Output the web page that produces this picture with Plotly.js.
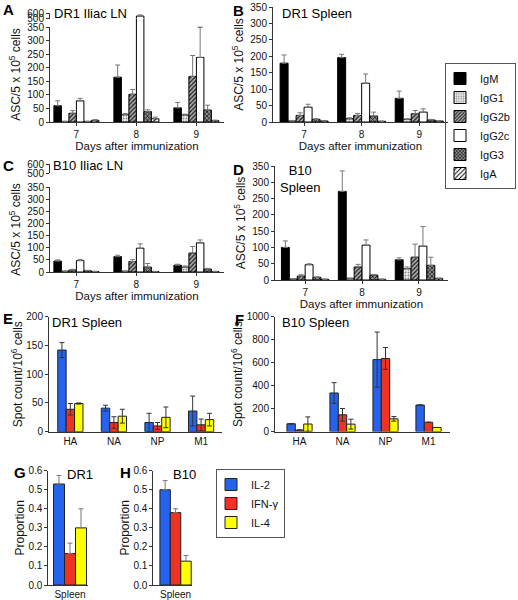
<!DOCTYPE html>
<html><head><meta charset="utf-8">
<script src="https://cdn.plot.ly/plotly-3.0.1.min.js"></script>
<style>html,body{margin:0;padding:0;background:#fff}#chart{width:518px;height:600px}</style>
</head><body><div id="chart"></div>
<script>
// ---------- data ----------
const days = [7, 8, 9];
const isotypes = ['IgM', 'IgG1', 'IgG2b', 'IgG2c', 'IgG3', 'IgA'];
// rows follow isotypes, columns follow days
const dr1IliacMean = [[60,165,52],[2,27,26],[32,102,168],[78,545,238],[2,38,44],[6,12,5]];
const dr1IliacErr  = [[18,45,20],[1,4,3],[10,18,77],[9,20,110],[1,7,18],[3,6,2]];
const dr1SpleenMean = [[179,196,72],[3,10,8],[20,20,25],[45,118,30],[8,18,6],[3,2,3]];
const dr1SpleenErr  = [[25,10,22],[1,3,2],[8,6,10],[9,28,10],[2,12,2],[1,1,1]];
const b10IliacMean = [[45,63,28],[3,3,20],[8,43,78],[47,98,120],[5,20,12],[2,2,2]];
const b10IliacErr  = [[5,6,4],[1,1,5],[3,8,27],[5,18,12],[2,15,3],[1,1,1]];
const b10SpleenMean = [[100,272,62],[3,5,35],[12,40,70],[47,107,104],[8,15,45],[2,2,5]];
const b10SpleenErr  = [[20,63,6],[1,1,5],[4,8,40],[3,16,60],[2,2,25],[1,1,1]];

const antigens = ['HA', 'NA', 'NP', 'M1'];
const cytokines = ['IL-2', 'IFN-γ', 'IL-4'];
const dr1SpotMean = [[142,41,16,36],[39,16,10,12],[49,27,25,21]];
const dr1SpotErr  = [[13,5,16,26],[10,10,6,10],[1,12,18,11]];
const b10SpotMean = [[67,335,625,230],[12,145,635,80],[65,64,110,35]];
const b10SpotErr  = [[3,90,240,0],[3,55,95,0],[62,43,20,0]];

const organ = ['Spleen'];
const dr1PropMean = [0.53, 0.165, 0.30];
const dr1PropErr  = [0.045, 0.055, 0.10];
const b10PropMean = [0.50, 0.38, 0.125];
const b10PropErr  = [0.048, 0.02, 0.03];

const ascTicks = [0, 50, 100, 150, 200, 250, 300, 350];
const breakTicks = [500, 600];

// ---------- styling ----------
const W = 518, H = 600;
const px = v => v / W;
const py = v => 1 - v / H;
const FONT = '"Liberation Sans", Arial, Helvetica, sans-serif';
const isoStyle = [
  {color: '#000000'},
  {color: '#e6e6e6', pattern: {shape: '.', fgcolor: '#8a8a8a', bgcolor: '#eeeeee', size: 3, solidity: 0.35}},
  {color: '#999999', pattern: {shape: '/', fgcolor: '#222222', bgcolor: '#b4b4b4', size: 3, solidity: 0.45}},
  {color: '#ffffff'},
  {color: '#666666', pattern: {shape: 'x', fgcolor: '#111111', bgcolor: '#8c8c8c', size: 3, solidity: 0.45}},
  {color: '#ffffff', pattern: {shape: '/', fgcolor: '#000000', bgcolor: '#ffffff', size: 4, solidity: 0.3}}
];
const cytoColor = ['#2563ee', '#ee3322', '#ffff00'];

const traces = [];

function isoPanel(xa, yas, means, errs, w, legendOn) {
  yas.forEach((ya, k) => {
    isotypes.forEach((name, i) => {
      const st = isoStyle[i];
      const marker = {color: st.color, line: {color: '#000', width: 1}};
      if (st.pattern) marker.pattern = st.pattern;
      traces.push({
        type: 'bar', name: name, x: days, y: means[i], xaxis: xa, yaxis: ya,
        width: w, offset: -3 * w + i * w, marker: marker,
        error_y: {type: 'data', symmetric: false, array: errs[i], arrayminus: errs[i].map(() => 0),
                  color: '#777', thickness: 1, width: 2.5},
        showlegend: legendOn && k === 0, legend: 'legend', hoverinfo: 'skip'
      });
    });
  });
}
isoPanel('x', ['y', 'y2', 'y3'], dr1IliacMean, dr1IliacErr, 0.125, false);
isoPanel('x2', ['y4'], dr1SpleenMean, dr1SpleenErr, 0.139, true);
isoPanel('x3', ['y5', 'y6', 'y7'], b10IliacMean, b10IliacErr, 0.125, false);
isoPanel('x4', ['y8'], b10SpleenMean, b10SpleenErr, 0.139, false);

function cytoPanel(xa, ya, cats, means, errs, w, symmetric, legendOn, ecolor) {
  cytokines.forEach((name, i) => {
    const e = Array.isArray(errs[i]) ? errs[i] : [errs[i]];
    const m = Array.isArray(means[i]) ? means[i] : [means[i]];
    traces.push({
      type: 'bar', name: name, x: cats, y: m, xaxis: xa, yaxis: ya,
      width: w, offset: -1.5 * w + i * w,
      marker: {color: cytoColor[i], line: {color: '#222', width: 1}},
      error_y: symmetric ? {type: 'data', array: e, color: ecolor, thickness: 1, width: 2.5}
                         : {type: 'data', symmetric: false, array: e, arrayminus: e.map(() => 0), color: ecolor, thickness: 1, width: 2.5},
      showlegend: legendOn, legend: 'legend2', hoverinfo: 'skip'
    });
  });
}
cytoPanel('x5', 'y9', antigens, dr1SpotMean, dr1SpotErr, 0.193, true, false, '#333');
cytoPanel('x6', 'y10', antigens, b10SpotMean, b10SpotErr, 0.195, true, false, '#333');
cytoPanel('x7', 'y11', organ, dr1PropMean, dr1PropErr, 0.275, false, true, '#777');
cytoPanel('x8', 'y12', organ, b10PropMean, b10PropErr, 0.26, false, false, '#777');

const axBase = {showline: true, linecolor: '#333', linewidth: 1, ticks: 'outside', ticklen: 3,
  tickcolor: '#333', tickwidth: 1, showgrid: false, zeroline: false, fixedrange: true,
  tickfont: {size: 10, color: '#111'}};
const daysTitle = {text: 'Days after immunization', font: {size: 11.5, color: '#111'}, standoff: 2};
const ascTitle = {text: 'ASC/5 x 10<sup>5</sup> cells', font: {size: 12, color: '#111'}, standoff: 4};
const spotTitle = {text: 'Spot count/10<sup>6</sup> cells', font: {size: 12, color: '#111'}, standoff: 1};
const propTitle = {text: 'Proportion', font: {size: 12, color: '#111'}, standoff: 1};

function ax(extra) { return Object.assign({}, axBase, extra); }

const layout = {
  width: W, height: H, margin: {l: 0, r: 0, t: 0, b: 0},
  paper_bgcolor: '#fff', plot_bgcolor: 'rgba(0,0,0,0)', barmode: 'overlay',
  font: {family: FONT, size: 10, color: '#111'},
  // A
  xaxis: ax({domain: [px(50), px(224)], range: [6.56, 9.46], tickvals: days, anchor: 'y', title: daysTitle}),
  yaxis: ax({domain: [py(122), py(27)], range: [0, 350], tickvals: ascTicks, anchor: 'x', title: ascTitle}),
  yaxis2: {domain: [py(27), py(18.5)], range: [350, 500], visible: false, anchor: 'x', fixedrange: true},
  yaxis3: ax({domain: [py(18.5), py(12.5)], range: [500, 610], tickvals: breakTicks, anchor: 'x'}),
  // B
  xaxis2: ax({domain: [px(273), px(448)], range: [6.46, 9.5], tickvals: days, anchor: 'y4', title: daysTitle}),
  yaxis4: ax({domain: [py(122), py(7)], range: [0, 350], tickvals: ascTicks, anchor: 'x2', title: ascTitle}),
  // C
  xaxis3: ax({domain: [px(50), px(224)], range: [6.56, 9.46], tickvals: days, anchor: 'y5', title: daysTitle}),
  yaxis5: ax({domain: [py(272), py(187)], range: [0, 350], tickvals: ascTicks, anchor: 'x3', title: ascTitle}),
  yaxis6: {domain: [py(187), py(173)], range: [350, 500], visible: false, anchor: 'x3', fixedrange: true},
  yaxis7: ax({domain: [py(173), py(164)], range: [500, 612], tickvals: breakTicks, anchor: 'x3'}),
  // D
  xaxis4: ax({domain: [px(275), px(448)], range: [6.47, 9.51], tickvals: days, anchor: 'y8', title: daysTitle}),
  yaxis8: ax({domain: [py(280), py(166)], range: [0, 350], tickvals: ascTicks, anchor: 'x4', title: ascTitle}),
  // E
  xaxis5: ax({domain: [px(49), px(222)], range: [-0.49, 3.48], type: 'category', ticks: '', anchor: 'y9'}),
  yaxis9: ax({domain: [py(431.7), py(316.7)], range: [0, 200], dtick: 50, anchor: 'x5', title: spotTitle}),
  // F
  xaxis6: ax({domain: [px(275), px(450)], range: [-0.57, 3.5], type: 'category', ticks: '', anchor: 'y10'}),
  yaxis10: ax({domain: [py(431.5), py(316.5)], range: [0, 1000], dtick: 200, anchor: 'x6', title: spotTitle}),
  // G
  xaxis7: ax({domain: [px(48.3), px(88)], range: [-0.5425, 0.45], type: 'category', ticks: '', anchor: 'y11'}),
  yaxis11: ax({domain: [py(585), py(470.7)], range: [0, 0.6], dtick: 0.1, tickformat: '.1f', anchor: 'x7', title: propTitle}),
  // H
  xaxis8: ax({domain: [px(153.3), px(192)], range: [-0.555, 0.41], type: 'category', ticks: '', anchor: 'y12'}),
  yaxis12: ax({domain: [py(585), py(470.7)], range: [0, 0.6], dtick: 0.1, tickformat: '.1f', anchor: 'x8', title: propTitle}),
  legend: {x: px(516), xanchor: 'right', y: py(63), yanchor: 'top', bordercolor: '#555', borderwidth: 1,
           bgcolor: 'rgba(255,255,255,0)', font: {size: 11, color: '#111'}, traceorder: 'normal', indentation: -6},
  legend2: {x: px(216), xanchor: 'left', y: py(469), yanchor: 'top', bordercolor: '#555', borderwidth: 1,
            bgcolor: 'rgba(255,255,255,0)', font: {size: 11, color: '#111'}, traceorder: 'normal', indentation: -6},
  annotations: []
};

function note(text, x, y, size, bold, anchor) {
  layout.annotations.push({text: bold ? '<b>' + text + '</b>' : text, x: px(x), y: py(y), xref: 'paper', yref: 'paper',
    xanchor: anchor || 'left', yanchor: 'middle', align: anchor === 'center' ? 'center' : 'left',
    showarrow: false, font: {size: size, color: '#000'}});
}
note('A', 1, 9, 15, true); note('B', 231, 11, 15, true); note('C', 1, 166, 15, true); note('D', 231, 169, 15, true);
note('E', 1, 318, 15, true); note('F', 233, 319, 15, true); note('G', 12, 472, 15, true); note('H', 118, 472, 15, true);
note('DR1 Iliac LN', 52, 14, 13); note('DR1 Spleen', 280, 14, 13);
note('B10 Iliac LN', 51, 166, 13); note('B10<br>Spleen', 300, 179, 13, false, 'center');
note('DR1 Spleen', 50, 322, 13); note('B10 Spleen', 280, 322, 13);
note('DR1', 65, 474, 13); note('B10', 171, 474, 13);

Plotly.newPlot('chart', traces, layout, {staticPlot: true, displayModeBar: false});
</script></body></html>
